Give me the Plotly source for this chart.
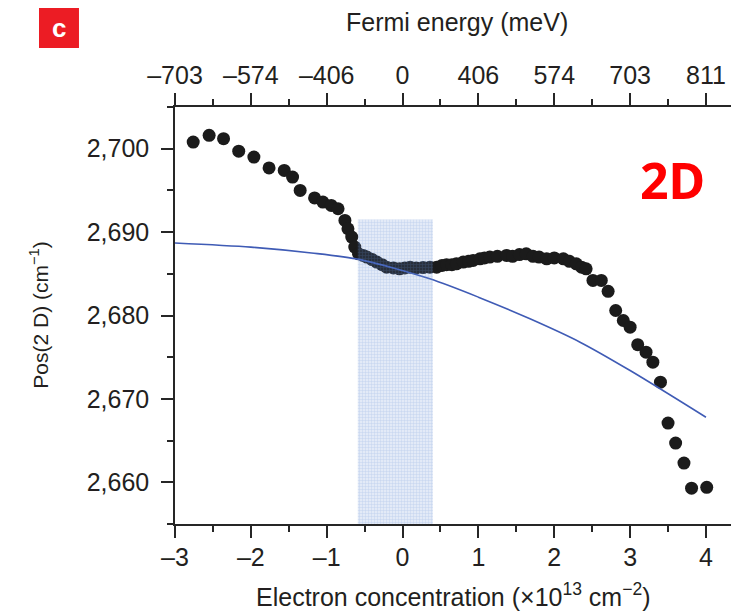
import plotly.graph_objects as go

# Raman 2D peak position vs. electron concentration
conc = [-2.76, -2.55, -2.36, -2.16, -1.96, -1.76, -1.56, -1.45, -1.35, -1.16,
        -1.05, -0.94, -0.85, -0.76, -0.72, -0.67, -0.63, -0.58, -0.52, -0.47,
        -0.40, -0.34, -0.27, -0.21, -0.12, -0.04, 0.03, 0.10, 0.18, 0.27,
        0.36, 0.45, 0.52, 0.58, 0.65, 0.71, 0.80, 0.87, 0.93, 1.02,
        1.08, 1.15, 1.25, 1.37, 1.45, 1.54, 1.63, 1.72, 1.80, 1.90,
        2.00, 2.12, 2.20, 2.29, 2.36, 2.42, 2.51, 2.62, 2.71, 2.81,
        2.91, 3.00, 3.10, 3.21, 3.30, 3.40, 3.50, 3.60, 3.71, 3.81, 4.01]
pos2d = [2700.8, 2701.6, 2701.2, 2699.7, 2699.0, 2697.7, 2697.4, 2696.6, 2695.0, 2694.1,
         2693.6, 2693.2, 2692.8, 2691.4, 2690.4, 2689.4, 2688.2, 2687.4, 2687.2, 2687.0,
         2686.7, 2686.4, 2686.1, 2685.8, 2685.7, 2685.6, 2685.7, 2685.8, 2685.7, 2685.75,
         2685.8, 2685.8, 2686.0, 2686.1, 2686.1, 2686.2, 2686.4, 2686.5, 2686.6, 2686.8,
         2686.9, 2687.0, 2687.1, 2687.2, 2687.1, 2687.3, 2687.4, 2687.1, 2687.0, 2686.8,
         2686.9, 2686.8, 2686.5, 2686.2, 2685.8, 2685.6, 2684.2, 2684.2, 2682.9, 2680.6,
         2679.4, 2678.6, 2676.5, 2675.6, 2674.4, 2672.0, 2667.1, 2664.7, 2662.3, 2659.3, 2659.4]

# Theoretical curve
theory_x = [-3.0, -2.0, -1.2, -0.56, 0.36, 1.0, 1.68, 2.34, 3.0, 4.0]
theory_y = [2688.7, 2688.2, 2687.5, 2686.7, 2684.4, 2682.2, 2679.6, 2676.8, 2673.4, 2667.8]

# Shaded band around the neutrality point
band_x = [-0.59, 0.40]
band_top = 2691.5

# Axis ticks
x_ticks = [-3, -2, -1, 0, 1, 2, 3, 4]
x_ticktext = ["–3", "–2", "–1", "0", "1", "2", "3", "4"]
fermi_ticktext = ["–703", "–574", "–406", "0", "406", "574", "703", "811"]
y_ticks = [2660, 2670, 2680, 2690, 2700]
y_ticktext = ["2,660", "2,670", "2,680", "2,690", "2,700"]

X_RANGE = [-3, 4.33]
Y_RANGE = [2655, 2705]

FONT = "Liberation Sans, Arial, sans-serif"
TXT = "#231f20"
AX = "#262626"

fig = go.Figure()

fig.add_trace(go.Scatter(
    x=conc, y=pos2d, mode="markers",
    marker=dict(size=13, color="#1b1b1b", line=dict(width=0)),
    showlegend=False, hoverinfo="skip"))

fig.add_trace(go.Scatter(
    x=theory_x, y=theory_y, mode="lines",
    line=dict(color="#3f5bb5", width=1.6, shape="spline", smoothing=0.8),
    showlegend=False, hoverinfo="skip"))

# hatched band drawn over the markers
bx0, bx1 = band_x
fig.add_trace(go.Scatter(
    x=[bx0, bx1, bx1, bx0, bx0], y=[Y_RANGE[0], Y_RANGE[0], band_top, band_top, Y_RANGE[0]],
    mode="lines", line=dict(width=0), fill="toself",
    fillcolor="rgba(98,141,212,0.18)",
    fillpattern=dict(shape="+", size=3, solidity=0.35,
                     fgcolor="rgba(98,141,212,0.45)", fillmode="overlay"),
    showlegend=False, hoverinfo="skip"))

# invisible trace to anchor the top (Fermi energy) axis
fig.add_trace(go.Scatter(x=[X_RANGE[0]], y=[Y_RANGE[0]], xaxis="x2", mode="markers",
                         marker=dict(opacity=0), showlegend=False, hoverinfo="skip"))

tick_common = dict(
    ticks="outside", ticklen=12, tickwidth=1.5, tickcolor=AX,
    showline=True, linecolor=AX, linewidth=1.5,
    showgrid=False, zeroline=False,
    tickfont=dict(family=FONT, size=25, color=TXT),
)

fig.update_layout(
    width=731, height=612,
    margin=dict(l=175, r=0, t=107, b=88),
    paper_bgcolor="white", plot_bgcolor="white",
    xaxis=dict(range=X_RANGE, tickvals=x_ticks, ticktext=x_ticktext,
               minor=dict(ticks="outside", ticklen=6, tickwidth=1.5, tickcolor=AX, dtick=0.5, tick0=0),
               ticklabelstandoff=-2, **tick_common),
    xaxis2=dict(range=X_RANGE, overlaying="x", side="top", anchor="y",
                tickvals=x_ticks, ticktext=fermi_ticktext,
                minor=dict(ticks="outside", ticklen=6, tickwidth=1.5, tickcolor=AX, dtick=0.5, tick0=0),
                ticklabelstandoff=-1, **tick_common),
    yaxis=dict(range=Y_RANGE, tickvals=y_ticks, ticktext=y_ticktext,
               minor=dict(ticks="outside", ticklen=6, tickwidth=1.5, tickcolor=AX, dtick=5, tick0=2660),
               ticklabelstandoff=7, **tick_common),
)

# Axis titles
fig.add_annotation(xref="paper", yref="paper", x=0.5, y=-0.214,
                   xanchor="center", yanchor="bottom",
                   text="Electron concentration (×10<sup>13</sup> cm<sup>−2</sup>)",
                   showarrow=False, font=dict(family=FONT, size=25, color=TXT))
fig.add_annotation(xref="paper", yref="paper", x=0.507, y=1.204,
                   xanchor="center", yanchor="middle",
                   text="Fermi energy (meV)",
                   showarrow=False, font=dict(family=FONT, size=25, color=TXT))
fig.add_annotation(xref="paper", yref="paper", x=-0.246, y=0.50,
                   xanchor="center", yanchor="middle",
                   text="Pos(2 D) (cm<sup>−1</sup>)", textangle=-90,
                   showarrow=False, font=dict(family=FONT, size=21, color=TXT))

# Panel badge
fig.add_shape(type="rect", xref="paper", yref="paper",
              x0=-0.2446, x1=-0.1727, y0=1.1415, y1=1.2374,
              fillcolor="#ec1c24", line=dict(width=0), layer="below")
fig.add_annotation(xref="paper", yref="paper", x=-0.2087, y=1.19,
                   xanchor="center", yanchor="middle",
                   text="<b>c</b>", showarrow=False,
                   font=dict(family=FONT, size=26, color="white"))

# Red "2D" label
fig.add_annotation(xref="paper", yref="paper", x=0.894, y=0.825,
                   xanchor="center", yanchor="middle",
                   text="<b>2D</b>", showarrow=False,
                   font=dict(family="Noto Sans, sans-serif", size=50, color="#ff0000"))

fig.write_html("out.html")
